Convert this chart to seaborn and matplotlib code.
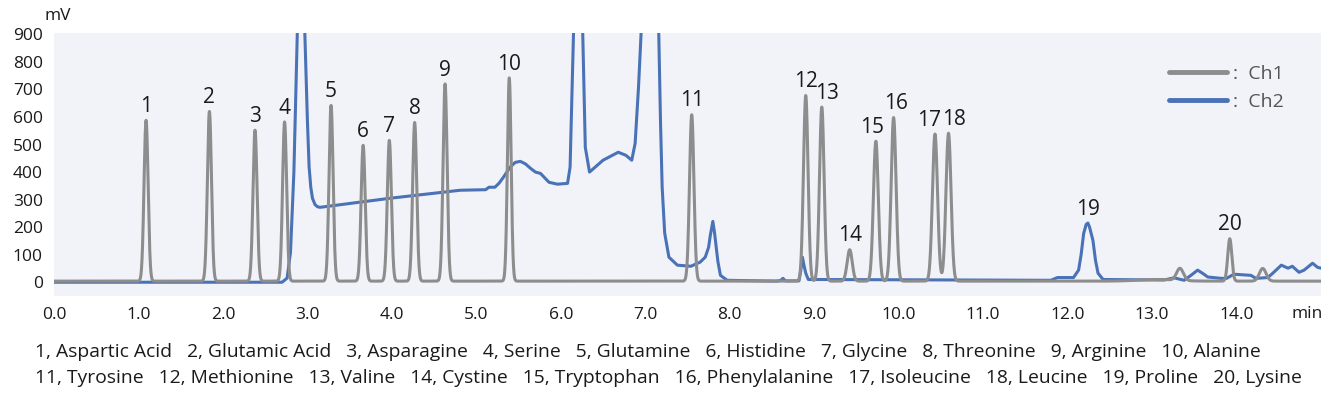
import numpy as np
import pandas as pd
import matplotlib
matplotlib.use("Agg")
import matplotlib.pyplot as plt
import seaborn as sns
from matplotlib.lines import Line2D

# ------------------------------------------------------------------ data
# Ch1 (grey) peaks: apex time (min), apex height (mV), width (sigma, min)
ch1_peak_time = [1.09, 1.84, 2.38, 2.73, 3.28, 3.66, 3.97, 4.27, 4.63, 5.39,
                 7.55, 8.90, 9.09, 9.42, 9.73, 9.94, 10.43, 10.59, 13.92,
                 13.33, 14.31, 13.05]
ch1_peak_height = [588, 620, 552, 582, 642, 497, 515, 580, 720, 742,
                   608, 678, 636, 118, 512, 598, 538, 541, 158,
                   48, 50, 10]
ch1_peak_sigma = [0.024, 0.024, 0.024, 0.024, 0.024, 0.024, 0.024, 0.024, 0.024, 0.022,
                  0.026, 0.027, 0.027, 0.030, 0.029, 0.029, 0.030, 0.030, 0.024,
                  0.040, 0.040, 0.220]
ch1_baseline = 4

# Ch2 (blue) trace (min, mV)
ch2_time = [0.00, 2.70, 2.76, 2.80, 2.84, 2.88, 2.90, 2.95, 2.97, 3.00, 3.02, 3.04,
            3.06, 3.09, 3.12, 3.15, 3.98, 4.81, 5.11, 5.15, 5.22, 5.27, 5.32, 5.40,
            5.46, 5.52, 5.58, 5.64, 5.70, 5.76, 5.86, 5.96, 6.08, 6.11, 6.15, 6.18,
            6.23, 6.26, 6.29, 6.34, 6.50, 6.68, 6.77, 6.84, 6.88, 6.92, 6.95, 7.00,
            7.12, 7.16, 7.18, 7.20, 7.23, 7.28, 7.38, 7.54, 7.65, 7.71, 7.75, 7.77,
            7.80, 7.82, 7.84, 7.86, 7.89, 7.97, 8.55, 8.60, 8.63, 8.66, 8.82, 8.84,
            8.86, 8.88, 8.90, 8.93, 11.80, 11.88, 12.07, 12.13, 12.16, 12.19, 12.22,
            12.24, 12.26, 12.30, 12.33, 12.36, 12.42, 13.14, 13.26, 13.38, 13.46,
            13.54, 13.60, 13.66, 13.82, 13.88, 13.97, 14.17, 14.23, 14.37, 14.43,
            14.53, 14.61, 14.66, 14.74, 14.80, 14.90, 14.96, 15.00]
ch2_mv = [0, 0, 15, 110, 400, 900, 1200, 1200, 900, 588, 420, 345,
          305, 282, 274, 272, 305, 334, 336, 345, 345, 360, 381, 418,
          435, 439, 430, 414, 400, 395, 363, 356, 359, 418, 900, 1200,
          1200, 900, 490, 400, 443, 472, 461, 443, 504, 708, 900, 1300,
          1300, 900, 588, 345, 178, 91, 62, 58, 73, 91, 127, 170,
          221, 180, 127, 75, 25, 7, 4, 6, 14, 5, 5, 40,
          91, 60, 33, 10, 7, 17, 17, 44, 100, 177, 210,
          215, 200, 152, 80, 33, 10, 8, 16, 7, 25,
          44, 32, 19, 14, 14, 29, 25, 14, 17, 33,
          62, 51, 58, 36, 44, 69, 54, 51]

# peak numbers, apex times and the channel they belong to
label_text = ["1", "2", "3", "4", "5", "6", "7", "8", "9", "10",
              "11", "12", "13", "14", "15", "16", "17", "18", "19", "20"]
label_time = [1.09, 1.84, 2.38, 2.73, 3.28, 3.66, 3.97, 4.27, 4.63, 5.39,
              7.55, 8.90, 9.09, 9.42, 9.73, 9.94, 10.43, 10.59, 12.24, 13.92]
label_channel = ["Ch1"] * 18 + ["Ch2", "Ch1"]

compound_names = ["Aspartic Acid", "Glutamic Acid", "Asparagine", "Serine", "Glutamine",
                  "Histidine", "Glycine", "Threonine", "Arginine", "Alanine",
                  "Tyrosine", "Methionine", "Valine", "Cystine", "Tryptophan",
                  "Phenylalanine", "Isoleucine", "Leucine", "Proline", "Lysine"]

x_ticks = [0.0, 1.0, 2.0, 3.0, 4.0, 5.0, 6.0, 7.0, 8.0, 9.0, 10.0, 11.0, 12.0, 13.0, 14.0]
y_ticks = [0, 100, 200, 300, 400, 500, 600, 700, 800, 900]
series_names = ["Ch1", "Ch2"]

# ------------------------------------------------------------------ build series
t = np.linspace(0, 15, 7501)
ch1 = np.full_like(t, ch1_baseline, dtype=float)
for t0, h, s in zip(ch1_peak_time, ch1_peak_height, ch1_peak_sigma):
    ch1 += (h - ch1_baseline) * np.exp(-0.5 * ((t - t0) / s) ** 2)

df1 = pd.DataFrame({"time": t, "mV": ch1, "channel": "Ch1"})
df2 = pd.DataFrame({"time": ch2_time, "mV": ch2_mv, "channel": "Ch2"})
frames = {"Ch1": df1, "Ch2": df2}

# ------------------------------------------------------------------ style
GREY = "#8d8d8d"
BLUE = "#4a72b6"
BG = "#f1f3f9"
TXT = "#1a1a1a"

sns.set_theme(style="white")
plt.rcParams["font.family"] = ["Open Sans", "DejaVu Sans"]

fig = plt.figure(figsize=(13.42, 3.97), dpi=100)
ax = fig.add_axes([54 / 1342, 1 - 296 / 397, (1321 - 54) / 1342, (296 - 33) / 397])
ax.set_facecolor(BG)

sns.lineplot(data=df2, x="time", y="mV", color=BLUE, linewidth=2.2,
             estimator=None, sort=False, ax=ax, legend=False)
sns.lineplot(data=df1, x="time", y="mV", color=GREY, linewidth=2.2,
             estimator=None, sort=False, ax=ax, legend=False)

ax.set_xlim(0, 15)
ax.set_ylim(-50, 905)
ax.set_xticks(x_ticks)
ax.set_xticklabels([f"{v:.1f}" for v in x_ticks])
ax.set_yticks(y_ticks)
ax.set_yticklabels([str(v) for v in y_ticks])
ax.tick_params(length=0, labelsize=12.5, colors=TXT)
ax.tick_params(axis="y", pad=8)
ax.tick_params(axis="x", pad=8)
ax.set_xlabel("")
ax.set_ylabel("")
for sp in ax.spines.values():
    sp.set_visible(False)

ax.text(0.003, 1.066, "mV", transform=ax.transAxes, ha="center", va="center",
        fontsize=12.5, color=TXT)
ax.text(0.989, -0.067, "min", transform=ax.transAxes, ha="center", va="center",
        fontsize=12.5, color=TXT)

# peak numbers
nudge_pt = {"13": 4, "15": -3, "16": 2, "17": -4, "18": 4}
for lab, tt, ch in zip(label_text, label_time, label_channel):
    d = frames[ch]
    win = d[(d["time"] >= tt - 0.04) & (d["time"] <= tt + 0.04)]
    ytop = win["mV"].max()
    ax.annotate(lab, xy=(tt, ytop), xytext=(nudge_pt.get(lab, 0), 6),
                textcoords="offset points", ha="center", va="baseline",
                fontsize=15, color=TXT)

# legend
handles = [Line2D([0], [0], color=GREY, lw=3.5), Line2D([0], [0], color=BLUE, lw=3.5)]
ax.legend(handles=handles, labels=[f":  {n}" for n in series_names],
          loc="upper left", bbox_to_anchor=(0.880, 0.88), frameon=False,
          handlelength=3.0, handletextpad=0.3, labelspacing=0.55,
          borderpad=0, borderaxespad=0, fontsize=14, labelcolor="#555555")

# compound key
entries = [f"{i + 1}, {n}" for i, n in enumerate(compound_names)]
sep = "   "
fig.text(35 / 1342, 1 - 352 / 397, sep.join(entries[:10]), ha="left", va="center",
         fontsize=13.85, color=TXT)
fig.text(35 / 1342, 1 - 378 / 397, sep.join(entries[10:]), ha="left", va="center",
         fontsize=13.85, color=TXT)

fig.savefig("out.png", dpi=100)
